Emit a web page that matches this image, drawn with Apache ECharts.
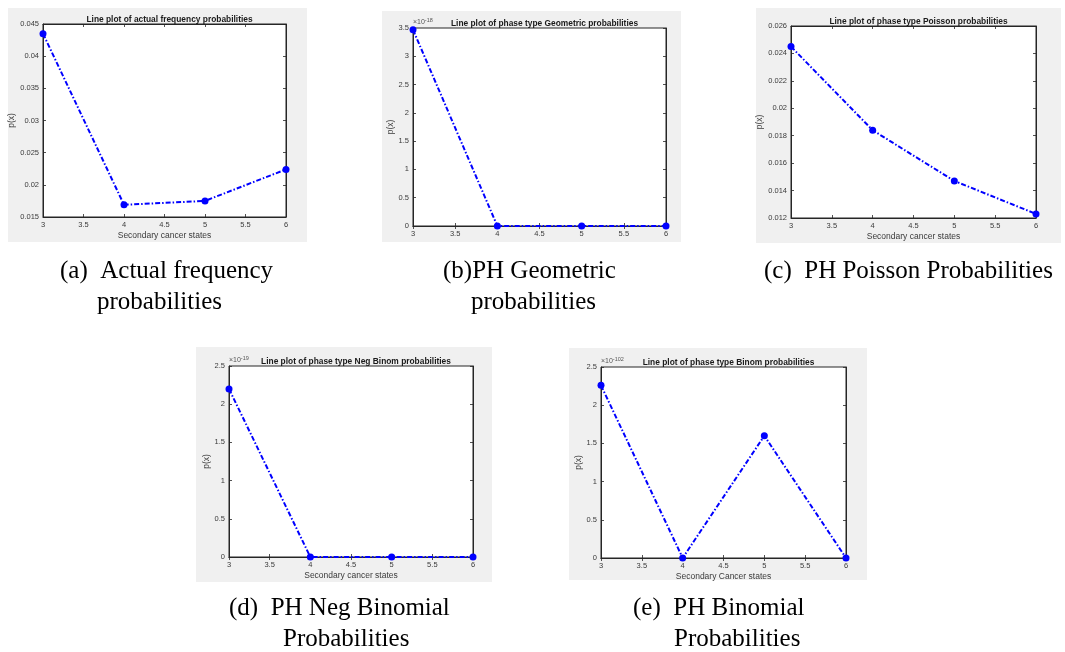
<!DOCTYPE html>
<html>
<head>
<meta charset="utf-8">
<script src="https://cdn.jsdelivr.net/npm/echarts@6/dist/echarts.min.js"></script>
<style>
  html, body { margin: 0; padding: 0; background: #ffffff; }
  #chart { width: 1065px; height: 652px; }
</style>
</head>
<body>
<div id="chart"></div>
<script>
// Secondary cancer states (x values shared by every panel)
const states = [3, 4, 5, 6];

// (a) actual frequency probabilities
const actualProb = [0.0435, 0.0169, 0.0175, 0.0224];
// (b) phase type Geometric probabilities, in units of 10^-18
const geomProb = [3.47, 0, 0, 0];
const geomExp = -18;
// (c) phase type Poisson probabilities
const poissonProb = [0.0245, 0.0184, 0.0147, 0.0123];
// (d) phase type Negative Binomial probabilities, in units of 10^-19
const negBinProb = [2.2, 0, 0, 0];
const negBinExp = -19;
// (e) phase type Binomial probabilities, in units of 10^-102
const binomProb = [2.26, 0, 1.6, 0];
const binomExp = -102;

// Axis tick settings
const xTicks = { min: 3, max: 6, interval: 0.5 };
const yTicksActual = { min: 0.015, max: 0.045, interval: 0.005 };
const yTicksPoisson = { min: 0.012, max: 0.026, interval: 0.002 };
const yTicksGeom = { min: 0, max: 3.5, interval: 0.5 };
const yTicksNegBin = { min: 0, max: 2.5, interval: 0.5 };
const yTicksBinom = { min: 0, max: 2.5, interval: 0.5 };

const titles = [
  'Line plot of actual frequency probabilities',
  'Line plot of phase type Geometric probabilities',
  'Line plot of phase type Poisson probabilities',
  'Line plot of phase type Neg Binom probabilities',
  'Line plot of phase type Binom probabilities'
];
const xNames = [
  'Secondary cancer states',
  '',
  'Secondary cancer states',
  'Secondary cancer states',
  'Secondary Cancer states'
];
const captions = [
  ['(a)  Actual frequency', 'probabilities'],
  ['(b)PH Geometric', 'probabilities'],
  ['(c)  PH Poisson Probabilities', ''],
  ['(d)  PH Neg Binomial', 'Probabilities'],
  ['(e)  PH Binomial', 'Probabilities']
];

// Panel layout: figure background box, axes box, y-name gap, caption anchors
const panels = [
  { bg: [8, 8, 299, 234],   grid: [43, 24, 243, 193],  yGap: 27, cap: [[60, 271], [97, 302]] },
  { bg: [382, 11, 299, 231], grid: [413, 28, 253, 198], yGap: 17, cap: [[443, 271], [471, 302]] },
  { bg: [756, 8, 305, 235],  grid: [791, 26, 245, 192], yGap: 26, cap: [[764, 271], null] },
  { bg: [196, 347, 296, 235], grid: [229, 366, 244, 191], yGap: 18, cap: [[229, 608], [283, 639]] },
  { bg: [569, 348, 298, 232], grid: [601, 367, 245, 191], yGap: 18, cap: [[633, 608], [674, 639]] }
];

const seriesData = [actualProb, geomProb, poissonProb, negBinProb, binomProb];
const yTickSets = [yTicksActual, yTicksGeom, yTicksPoisson, yTicksNegBin, yTicksBinom];
const exponents = [null, geomExp, null, negBinExp, binomExp];

const axisColor = '#262626';
const labelColor = '#3a3a3a';
const sansFont = '"Liberation Sans", Arial, sans-serif';
const serifFont = '"Liberation Serif", "Times New Roman", serif';

const grids = [], xAxes = [], yAxes = [], series = [], titleList = [], graphics = [];

panels.forEach((p, i) => {
  const [gl, gt, gw, gh] = p.grid;
  grids.push({
    left: gl, top: gt, width: gw, height: gh,
    show: true, backgroundColor: '#ffffff',
    borderColor: axisColor, borderWidth: 1,
    containLabel: false
  });

  const tickStyle = { show: true, inside: true, length: 3, lineStyle: { color: axisColor, width: 0.8 } };

  // bottom x axis with labels
  xAxes.push({
    type: 'value', gridIndex: i, position: 'bottom',
    min: xTicks.min, max: xTicks.max, interval: xTicks.interval,
    axisLine: { show: true, lineStyle: { color: axisColor, width: 1 } },
    axisTick: tickStyle,
    axisLabel: { color: labelColor, fontSize: 7.5, fontFamily: sansFont, margin: 4 },
    splitLine: { show: false },
    name: xNames[i], nameLocation: 'middle', nameGap: 14,
    nameTextStyle: { color: labelColor, fontSize: 8.5, fontFamily: sansFont }
  });
  // top x axis (ticks only)
  xAxes.push({
    type: 'value', gridIndex: i, position: 'top',
    min: xTicks.min, max: xTicks.max, interval: xTicks.interval,
    axisLine: { show: true, lineStyle: { color: axisColor, width: 1 } },
    axisTick: tickStyle, axisLabel: { show: false }, splitLine: { show: false }
  });

  const yt = yTickSets[i];
  yAxes.push({
    type: 'value', gridIndex: i, position: 'left',
    min: yt.min, max: yt.max, interval: yt.interval,
    axisLine: { show: true, lineStyle: { color: axisColor, width: 1 } },
    axisTick: tickStyle,
    axisLabel: { color: labelColor, fontSize: 7.5, fontFamily: sansFont, margin: 4 },
    splitLine: { show: false },
    name: 'p(x)', nameLocation: 'middle', nameGap: p.yGap, nameRotate: 90,
    nameTextStyle: { color: labelColor, fontSize: 8.5, fontFamily: sansFont }
  });
  yAxes.push({
    type: 'value', gridIndex: i, position: 'right',
    min: yt.min, max: yt.max, interval: yt.interval,
    axisLine: { show: true, lineStyle: { color: axisColor, width: 1 } },
    axisTick: tickStyle, axisLabel: { show: false }, splitLine: { show: false }
  });

  series.push({
    type: 'line',
    xAxisIndex: i * 2, yAxisIndex: i * 2,
    data: states.map((s, k) => [s, seriesData[i][k]]),
    symbol: 'circle', symbolSize: 7,
    itemStyle: { color: '#0000ff' },
    lineStyle: { color: '#0000ff', width: 2, type: [5, 2, 1.5, 2] },
    silent: true, animation: false, z: 5
  });

  titleList.push({
    text: titles[i],
    left: gl + gw / 2, top: gt - 13, textAlign: 'center',
    textStyle: { fontSize: 8.4, fontWeight: 'bold', color: '#1a1a1a', fontFamily: sansFont }
  });

  // figure background
  graphics.push({
    type: 'rect', z: -10, silent: true,
    shape: { x: p.bg[0], y: p.bg[1], width: p.bg[2], height: p.bg[3] },
    style: { fill: '#f0f0f0' }
  });

  // exponent multiplier above the y axis
  if (exponents[i] !== null) {
    graphics.push({
      type: 'text', z: 10, silent: true,
      left: gl, top: gt - 11,
      style: {
        text: '×10{s|' + exponents[i] + '}',
        fill: '#555555', font: '7px ' + sansFont,
        rich: { s: { fontSize: 5.5, verticalAlign: 'top', padding: [0, 0, 4, 0], fill: '#555555', fontFamily: sansFont } }
      }
    });
  }

  // caption below the panel
  p.cap.forEach((pos, k) => {
    if (!pos || !captions[i][k]) return;
    graphics.push({
      type: 'text', z: 10, silent: true,
      x: pos[0], y: pos[1],
      style: {
        text: captions[i][k],
        fill: '#000000', font: '25px ' + serifFont,
        textVerticalAlign: 'middle', textAlign: 'left'
      }
    });
  });
});

const chart = echarts.init(document.getElementById('chart'), null, { renderer: 'canvas' });
chart.setOption({
  backgroundColor: '#ffffff',
  animation: false,
  title: titleList,
  grid: grids,
  xAxis: xAxes,
  yAxis: yAxes,
  series: series,
  graphic: { elements: graphics }
});
</script>
</body>
</html>
